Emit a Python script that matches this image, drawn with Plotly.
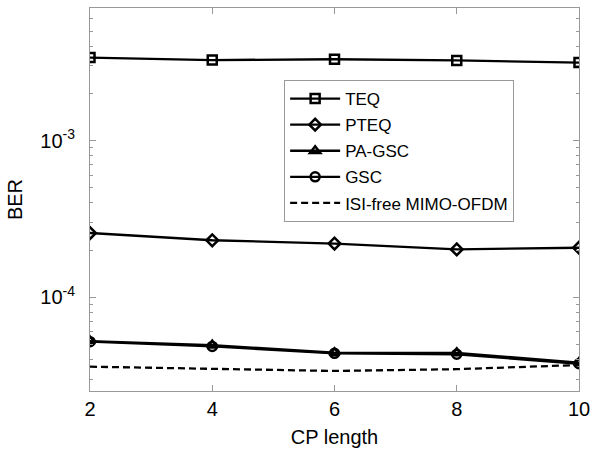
import plotly.graph_objects as go

# CP length values and BER for each receiver
cp_length = [2, 4, 6, 8, 10]
ber_teq = [3.39e-3, 3.27e-3, 3.31e-3, 3.25e-3, 3.15e-3]
ber_pteq = [2.57e-4, 2.31e-4, 2.20e-4, 2.02e-4, 2.07e-4]
ber_pagsc = [5.25e-5, 4.94e-5, 4.42e-5, 4.41e-5, 3.82e-5]
ber_gsc = [5.20e-5, 4.85e-5, 4.38e-5, 4.32e-5, 3.76e-5]
ber_isi_free = [3.60e-5, 3.48e-5, 3.38e-5, 3.47e-5, 3.69e-5]

series_names = ["TEQ", "PTEQ", "PA-GSC", "GSC", "ISI-free MIMO-OFDM"]
y_ticks = [1e-4, 1e-3]
y_tick_text = ["10<sup>-4</sup>", "10<sup>-3</sup>"]
x_ticks = [2, 4, 6, 8, 10]

FONT = "Arial, Liberation Sans, Helvetica, sans-serif"

styles = [
    dict(symbol="square-open", dash="solid"),
    dict(symbol="diamond-open", dash="solid"),
    dict(symbol="triangle-up-open", dash="solid"),
    dict(symbol="circle-open", dash="solid"),
    dict(symbol=None, dash="7px,4px"),
]
data = [ber_teq, ber_pteq, ber_pagsc, ber_gsc, ber_isi_free]

fig = go.Figure()
for name, ys, st in zip(series_names, data, styles):
    if st["symbol"]:
        mode = "lines+markers"
        marker = dict(symbol=st["symbol"], size=9, color="black",
                      line=dict(width=2.5, color="black"))
    else:
        mode = "lines"
        marker = None
    fig.add_trace(go.Scatter(
        x=cp_length, y=ys, name=name, mode=mode, legendgroup=name,
        line=dict(color="black", width=2.3, dash=st["dash"]),
        marker=marker,
    ))

# minor ticks for each decade on the log axis
minor_vals = []
for e in (-5, -4, -3):
    for m in range(2, 10):
        minor_vals.append(m * 10.0 ** e)

axis_common = dict(
    showline=True, linecolor="#999999", linewidth=1, mirror="ticks",
    ticks="inside", ticklen=6, tickcolor="#999999", showgrid=False,
    zeroline=False, tickfont=dict(family=FONT, size=20, color="black"),
)

fig.update_layout(
    width=597, height=452,
    margin=dict(l=90, r=14, t=7, b=61),
    paper_bgcolor="white", plot_bgcolor="white",
    font=dict(family=FONT, color="black"),
    showlegend=True,
    legend=dict(
        x=0.397, y=0.812, xanchor="left", yanchor="top",
        bgcolor="white", bordercolor="#999999", borderwidth=1,
        font=dict(family=FONT, size=17, color="black"),
        tracegroupgap=1, traceorder="grouped", itemwidth=50,
    ),
    xaxis=dict(
        range=[2, 10], tickvals=x_ticks,
        title=dict(text="CP length", font=dict(family=FONT, size=20), standoff=10),
        **axis_common,
    ),
    yaxis=dict(
        type="log", range=[-4.599, -2.153],
        tickvals=y_ticks, ticktext=y_tick_text, ticklabelstandoff=10,
        minor=dict(tickvals=minor_vals, ticks="inside", ticklen=3,
                   tickcolor="#999999"),
        title=dict(text="BER", font=dict(family=FONT, size=20), standoff=12),
        **axis_common,
    ),
)

fig.write_html("out.html")
